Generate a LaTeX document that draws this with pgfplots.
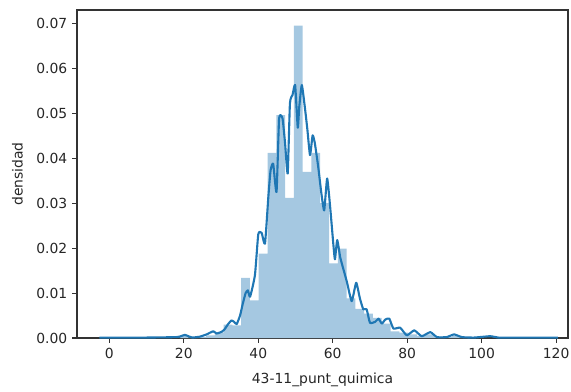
\documentclass[border=0pt]{standalone}
\usepackage{pgfplots}
\pgfplotsset{compat=1.18}
\usepackage{fontspec}
\setmainfont{DejaVu Sans}
\definecolor{barblue}{HTML}{A5C8E1}
\definecolor{lineblue}{HTML}{1F77B4}
\begin{document}
\fontsize{13.9bp}{16bp}\selectfont
\begin{tikzpicture}
\path[use as bounding box] (-77bp,-54bp) rectangle (494bp,338bp);
\begin{axis}[
  at={(0,0)}, anchor=south west,
  scale only axis,
  width=491bp, height=328bp,
  xmin=-8.7, xmax=123.2,
  ymin=0, ymax=0.0730,
  xtick={0,20,40,60,80,100,120},
  ytick={0,0.01,0.02,0.03,0.04,0.05,0.06,0.07},
  yticklabel style={/pgf/number format/fixed,/pgf/number format/precision=2,/pgf/number format/fixed zerofill},
  scaled y ticks=false,
  /pgf/number format/assume math mode=true,
  tick align=outside,
  major tick length=4.9bp,
  tick style={black!80, line width=1.1bp},
  axis line style={black!80, line width=1.1bp},
  ticklabel style={font=\fontsize{13.9bp}{16bp}\selectfont, text=black!85},
  xtick pos=bottom, ytick pos=left,
  xlabel={43-11\_punt\_quimica},
  ylabel={densidad},
  label style={font=\fontsize{13.9bp}{16bp}\selectfont, text=black!85},
  xlabel style={yshift=-5bp},
  ylabel style={yshift=4bp},
]
\addplot[ybar interval, fill=barblue, draw=none] coordinates {
(18.88,0.0004) (21.24,0.0001) (23.60,0.0002) (25.96,0.0006) (28.32,0.0012)
(30.68,0.0030) (33.04,0.0028) (35.40,0.0134) (37.76,0.0084) (40.12,0.0188)
(42.48,0.0412) (44.84,0.0496) (47.20,0.0312) (49.56,0.0695) (51.92,0.0370)
(54.28,0.0412) (56.64,0.0300) (59.00,0.0166) (61.36,0.0199) (63.72,0.0088)
(66.08,0.0065) (68.44,0.0054) (70.80,0.0045) (73.16,0.0032) (75.52,0.0015)
(77.88,0.0012) (80.24,0.0008) (82.60,0.0005) (84.96,0.0008) (87.32,0.0003)
(89.68,0.0002) (92.04,0.0004) (94.40,0.0002) (96.76,0)
};
\addplot[lineblue, line width=2.1bp, smooth, tension=0.3, line join=round] coordinates {
(-2.7,0.0001) (0,0.0001) (10,0.0001) (18,0.0002) (19.2,0.0004) (20.3,0.0007)
(21.5,0.0003) (22.3,0.0001) (24.3,0.0003) (26.1,0.0008) (27.9,0.0015) (28.8,0.0010)
(30.2,0.0014) (31.0,0.0020) (31.9,0.0031) (32.8,0.0039) (33.5,0.0036) (34.2,0.0031)
(35.1,0.0050) (35.8,0.0075) (36.6,0.0100) (37.2,0.0106) (37.8,0.0092) (39.1,0.0140)
(40.0,0.0231) (40.9,0.0234) (41.8,0.0210) (42.7,0.0314) (43.3,0.0373) (44.0,0.0388)
(44.9,0.0325) (45.6,0.0489) (46.5,0.0489) (47.2,0.0433) (47.9,0.0366) (48.5,0.0522)
(49.2,0.0541) (49.9,0.0563) (50.6,0.0468) (51.0,0.0514) (51.7,0.0563) (52.6,0.0507)
(53.2,0.0463) (53.9,0.0407) (54.6,0.0451) (55.2,0.0433) (56.1,0.0381) (56.9,0.0325)
(57.7,0.0284) (58.5,0.0355) (59.3,0.0292) (60.2,0.0205) (60.6,0.0175) (61.2,0.0218)
(62.0,0.0180) (62.7,0.0158) (63.8,0.0125) (65.1,0.0082) (66.3,0.0123) (67.3,0.0088)
(68.2,0.0064) (69.1,0.0064) (70.0,0.0034) (71.4,0.0036) (72.3,0.0043) (73.2,0.0032)
(74.1,0.0041) (75.2,0.0043) (76.3,0.0021) (78.1,0.0023) (79.9,0.0006) (81.9,0.0017)
(83.9,0.0004) (86.2,0.0013) (88.0,0.0002) (90.6,0.0002) (92.6,0.0008) (94.7,0.0002)
(98,0.0001) (102.3,0.0004) (104.5,0.0001) (110,0.0001) (120.5,0.0001)
};
\end{axis}
\end{tikzpicture}
\end{document}
